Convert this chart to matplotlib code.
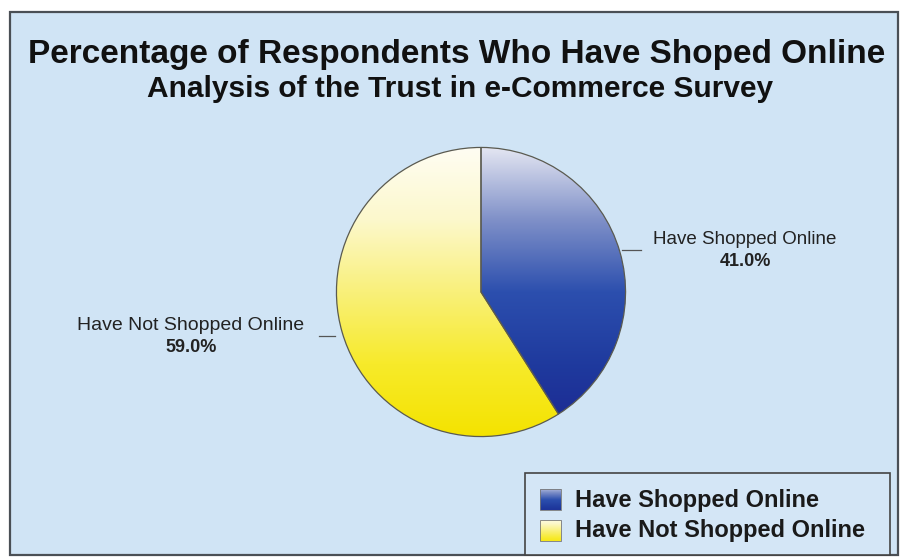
import numpy as np
import matplotlib.pyplot as plt
from matplotlib.colors import LinearSegmentedColormap
from matplotlib.patches import Rectangle

# survey results
labels = ['Have Shopped Online', 'Have Not Shopped Online']
shares = [41.0, 59.0]
title_main = 'Percentage of Respondents Who Have Shoped Online'
title_sub = 'Analysis of the Trust in e-Commerce Survey'

# vertical shading for each slice, top -> bottom
blue_shade = ['#1c2790', '#1f3a9e', '#2c4fae', '#7f90c8', '#e4e6f2']
yellow_shade = ['#f4e300', '#f7ea2a', '#f9f07a', '#fcf8cc', '#fffdf3']

W, H = 900, 559
fig = plt.figure(figsize=(9, 5.59), dpi=100)
fig.patch.set_facecolor('white')

# chart frame
bg = fig.add_axes([0, 0, 1, 1])
bg.axis('off')
bg.add_patch(Rectangle((10, 12), 888, 543, facecolor='#d0e4f5',
                       edgecolor='#4a4f55', lw=1.6))

font = ['Liberation Sans', 'DejaVu Sans']
bg.text(457, 63, title_main, ha='center', va='baseline', fontsize=24,
        fontweight='bold', family=font, color='#111111')
bg.text(460, 97, title_sub, ha='center', va='baseline', fontsize=21.5,
        fontweight='bold', family=font, color='#111111')

# pie
cx, cy, r = 481, 292, 146
ax = fig.add_axes([(cx - r) / W, (H - cy - r) / H, 2 * r / W, 2 * r / H])
wedges, _ = ax.pie(shares, radius=1, startangle=90, counterclock=False,
                   wedgeprops=dict(edgecolor='#5a5a50', linewidth=0.9))
ax.axis('off')

grad = np.linspace(0, 1, 256).reshape(-1, 1)
cmaps = [LinearSegmentedColormap.from_list('shade', s)
         for s in (blue_shade, yellow_shade)]
for w, cmap in zip(wedges, cmaps):
    w.set_facecolor('none')
    im = ax.imshow(grad, cmap=cmap, extent=[-1, 1, -1, 1], origin='lower',
                   aspect='auto', zorder=w.get_zorder() - 0.5)
    im.set_clip_path(w)
ax.set_xlim(-1.01, 1.01)
ax.set_ylim(-1.01, 1.01)

# slice labels with short leader lines
bg.plot([622, 641], [250, 250], color='#555555', lw=0.9)
bg.plot([319, 335], [336, 336], color='#555555', lw=0.9)
bg.text(745, 239, labels[0], ha='center', va='center', fontsize=13.5,
        family=font, color='#222222')
bg.text(745, 262, f'{shares[0]:.1f}%', ha='center', va='center', fontsize=13,
        fontweight='bold', family=font, color='#222222')
bg.text(191, 326, labels[1], ha='center', va='center', fontsize=14,
        family=font, color='#222222')
bg.text(191, 348, f'{shares[1]:.1f}%', ha='center', va='center', fontsize=13,
        fontweight='bold', family=font, color='#222222')

# legend box with shaded swatches
bg.add_patch(Rectangle((525, 473), 365, 82, facecolor='#d4e6f6',
                       edgecolor='#444444', lw=1.2))
for i, (lab, cmap) in enumerate(zip(labels, cmaps)):
    y = 500 + i * 31
    bg.imshow(grad[40:220], cmap=cmap, extent=[540, 561, y + 10, y - 11],
              origin='lower', aspect='auto', zorder=3,
              vmin=0, vmax=1)
    bg.add_patch(Rectangle((540, y - 11), 21, 21, facecolor='none',
                           edgecolor='#777777', lw=0.6, zorder=4))
    bg.text(575, y, lab, ha='left', va='center', fontsize=17,
            fontweight='bold', family=font, color='#1a1a1a')

bg.set_xlim(0, W)
bg.set_ylim(H, 0)

fig.savefig('out.png', dpi=100)
